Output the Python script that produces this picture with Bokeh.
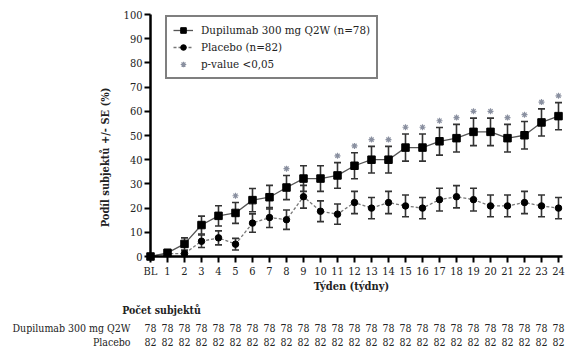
import numpy as np
from bokeh.plotting import figure
from bokeh.models import (Range1d, ColumnDataSource, Whisker, TeeHead, Legend, LegendItem,
                          FixedTicker)
from bokeh.core.properties import value
from bokeh.embed import file_html
from bokeh.resources import INLINE

# ---------------- data ----------------
weeks = list(range(0, 25))
week_labels = ["BL"] + [str(w) for w in range(1, 25)]
dupi = [0, 1.5, 5.2, 13.0, 16.8, 18.0, 23.3, 24.5, 28.5, 32.2, 32.2, 33.5, 37.5,
        40.0, 40.0, 45.0, 45.0, 47.6, 48.9, 51.5, 51.5, 48.9, 50.1, 55.4, 58.0]
dupi_se = [0, 1.4, 2.5, 3.7, 4.2, 4.3, 4.8, 4.9, 5.0, 5.3, 5.3, 5.3, 5.4,
           5.5, 5.5, 5.6, 5.6, 5.7, 5.7, 5.7, 5.7, 5.7, 5.7, 5.6, 5.6]
placebo = [0, 1.2, 1.2, 6.3, 7.7, 5.1, 13.8, 16.1, 15.2, 24.7, 18.7, 17.5, 22.3,
           20.0, 22.3, 20.9, 20.0, 23.5, 24.7, 23.5, 20.9, 20.9, 22.3, 20.9, 20.0]
placebo_se = [0, 0.8, 1.2, 2.6, 2.9, 2.4, 3.8, 4.1, 4.0, 4.7, 4.3, 4.2, 4.6,
              4.4, 4.6, 4.5, 4.4, 4.7, 4.6, 4.7, 4.5, 4.5, 4.6, 4.5, 4.4]
significant = [5, 8, 11, 12, 13, 14, 15, 16, 17, 18, 19, 20, 21, 22, 23, 24]
n_dupi = [78] * 25
n_placebo = [82] * 25
label_dupi = "Dupilumab 300 mg Q2W (n=78)"
label_placebo = "Placebo (n=82)"
label_sig = "p-value <0,05"
row_labels = ["Dupilumab 300 mg Q2W", "Placebo"]

# ---------------- geometry ----------------
W, H = 570, 349
PX_X = 17.0      # px per week
X0 = 150.0       # px of BL
PX_Y = 2.42      # px per percent
Y0 = 256.0       # px of 0 %

p = figure(width=W, height=H, output_backend="svg", toolbar_location=None,
           x_range=Range1d(-X0 / PX_X, (W - X0) / PX_X),
           y_range=Range1d((Y0 - H) / PX_Y, Y0 / PX_Y),
           min_border=0)
p.outline_line_color = None
p.grid.visible = False
p.background_fill_color = "white"
p.border_fill_color = "white"

SERIF = "DejaVu Serif Condensed"
TXT = "#222"

# axes
xa = p.xaxis[0]
ya = p.yaxis[0]
xa.fixed_location = 0
ya.fixed_location = 0
xa.bounds = (0, 24.25)
ya.bounds = (0, 100)
xa.ticker = FixedTicker(ticks=weeks)
xa.major_label_overrides = {w: l for w, l in zip(weeks, week_labels)}
ya.ticker = FixedTicker(ticks=list(range(0, 101, 10)))
for ax in (xa, ya):
    ax.axis_line_width = 2.5
    ax.axis_line_color = "black"
    ax.major_tick_line_width = 2
    ax.major_tick_line_color = "black"
    ax.major_tick_in = 0
    ax.major_tick_out = 6
    ax.minor_tick_line_color = None
    ax.major_label_text_font = SERIF
    ax.major_label_text_font_size = "11px"
    ax.major_label_text_color = TXT
    ax.major_label_standoff = 2

# data-based lines
src_d = ColumnDataSource(dict(x=weeks, y=dupi, lo=[v - s for v, s in zip(dupi, dupi_se)],
                              hi=[v + s for v, s in zip(dupi, dupi_se)]))
src_p = ColumnDataSource(dict(x=weeks, y=placebo, lo=[v - s for v, s in zip(placebo, placebo_se)],
                              hi=[v + s for v, s in zip(placebo, placebo_se)]))

for src in (src_p, src_d):
    w = Whisker(source=src, base="x", lower="lo", upper="hi",
                line_color="#333", line_width=1.6,
                upper_head=TeeHead(size=7, line_color="#333", line_width=1.6),
                lower_head=TeeHead(size=7, line_color="#333", line_width=1.6))
    p.add_layout(w)

lp = p.line("x", "y", source=src_p, line_color="#777", line_width=1.3, line_dash="3 2")
sp = p.scatter("x", "y", source=src_p, marker="circle", size=6.5, color="black")
ld = p.line("x", "y", source=src_d, line_color="#555", line_width=1.3)
sd = p.scatter("x", "y", source=src_d, marker="square", size=7.5, color="black")

sig_y = [dupi[w] + dupi_se[w] + 2.8 for w in significant]
sa = p.scatter(significant, sig_y, marker="asterisk", size=6, line_color="#8a90a0", line_width=1.2)

# legend
leg = Legend(items=[LegendItem(label=label_dupi, renderers=[ld, sd]),
                    LegendItem(label=label_placebo, renderers=[lp, sp]),
                    LegendItem(label=label_sig, renderers=[sa])],
             location=(165, 270), border_line_color="black", border_line_width=2,
             background_fill_color="white", background_fill_alpha=1,
             label_text_font=SERIF, label_text_font_size="11.5px", label_text_color=TXT,
             glyph_width=20, glyph_height=14, label_standoff=8, spacing=3,
             padding=6, margin=0, label_height=14)
p.add_layout(leg, "center")

# texts
p.text(x=[(105 - X0) / PX_X], y=[(Y0 - 157) / PX_Y], text=["Podíl subjektů +/- SE (%)"],
       angle=np.pi / 2, text_align="center", text_baseline="middle",
       text_font=value(SERIF), text_font_style="bold", text_font_size="11px", text_color=TXT)
p.text(x=[(351 - X0) / PX_X], y=[(Y0 - 286) / PX_Y], text=["Týden (týdny)"],
       text_align="center", text_baseline="middle",
       text_font=value(SERIF), text_font_style="bold", text_font_size="11px", text_color=TXT)
p.text(x=[(161 - X0) / PX_X], y=[(Y0 - 309) / PX_Y], text=["Počet subjektů"],
       text_align="center", text_baseline="middle",
       text_font=value(SERIF), text_font_style="bold", text_font_size="10.5px", text_color=TXT)

row_y = [(Y0 - 327) / PX_Y, (Y0 - 341) / PX_Y]
p.text(x=[(130 - X0) / PX_X] * 2, y=row_y, text=row_labels,
       text_align="right", text_baseline="middle",
       text_font=value(SERIF), text_font_size="10.5px", text_color=TXT)
p.text(x=weeks, y=[row_y[0]] * 25, text=[str(n) for n in n_dupi],
       text_align="center", text_baseline="middle",
       text_font=value(SERIF), text_font_size="10.5px", text_color=TXT)
p.text(x=weeks, y=[row_y[1]] * 25, text=[str(n) for n in n_placebo],
       text_align="center", text_baseline="middle",
       text_font=value(SERIF), text_font_size="10.5px", text_color=TXT)

open("out.html", "w").write(file_html(p, INLINE))
